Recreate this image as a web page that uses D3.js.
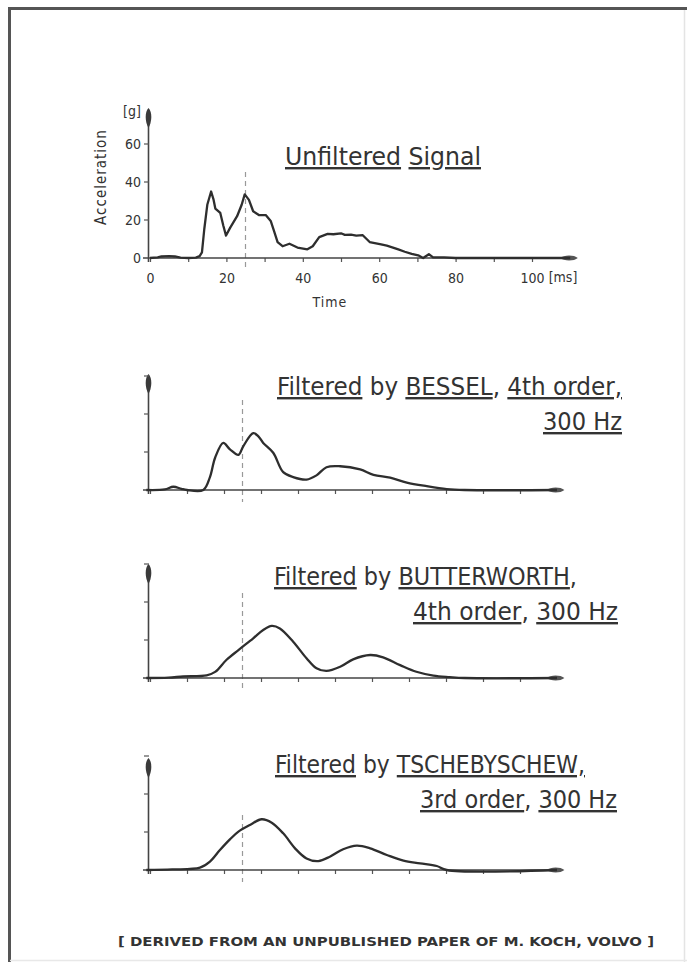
<!DOCTYPE html>
<html>
<head>
<meta charset="utf-8">
<script src="https://cdn.jsdelivr.net/npm/d3@7"></script>
<style>
  body { margin: 0; background: #fff; }
  svg text { font-family: "DejaVu Sans Condensed", "DejaVu Sans", sans-serif; fill: #333; }
  .ul { text-decoration: underline; text-underline-offset: 4px; }
</style>
</head>
<body>
<svg id="chart" width="687" height="962"></svg>
<script>
// values: [time ms, acceleration g]
const unfiltered = [[0,0],[2,0.3],[3,0.8],[5,1],[6.5,0.8],[8,0.2],[10,0],[12,0.2],[13,1],[13.6,3],[14.2,15],[15,28],[16,35],[16.6,31],[17.1,26],[18.4,23.7],[19.2,17],[19.9,11.8],[21,16],[22.8,22],[24,28],[24.8,33.5],[25.9,30.6],[27,24.6],[28.5,22.6],[30.3,22.6],[31.6,19.5],[32.5,14],[33.4,8.4],[34.7,6.2],[36.5,7.5],[38.6,5.5],[41.2,4.6],[42.6,6.2],[44.3,11],[46.5,12.7],[48,12.5],[50,13],[51,12.2],[52.6,12.3],[54,11.8],[55.7,12],[57.5,8.4],[60.5,7.2],[62,6.5],[63.6,5.5],[65,4.5],[66.7,3.3],[68.5,2.2],[70.2,1.4],[71.5,0],[73,2],[74.1,0.3],[77,0.3],[80,0],[100,0],[110,0]];
const bessel = [[-1,0],[4,0.3],[6.3,1.7],[8.5,0.6],[10,0],[14.4,0],[16.2,6.8],[17.6,17],[19.8,24.8],[21.6,21.4],[23.9,18.5],[25.2,23],[27.9,29.9],[29.3,28.2],[30.6,24.8],[33.3,19.6],[36,9.4],[38.7,6.8],[42.3,5.5],[45,7.7],[47.7,12],[51.4,12.5],[56.8,10.8],[60.4,8],[64.9,6.5],[69.4,3.9],[74.8,2],[80.2,0.5],[85,0],[110,0]];
const butterworth = [[-1,0],[5,0.2],[9,0.8],[15.3,1.4],[17.6,3.2],[20.7,9.6],[23.9,14.7],[27.9,20.9],[30.6,25.3],[32.9,27.4],[35.1,26.1],[38.7,19.1],[42.3,10.4],[45,5.1],[47.7,3.7],[51.4,5.9],[54.9,9.8],[59.5,12.1],[63,10.9],[67.6,6.8],[72,3.3],[76.6,1.3],[81,0.5],[85,0],[110,0]];
const tscheby = [[-1,0],[6,0.3],[13.5,1.2],[16.2,4.4],[18.9,10.5],[21.6,16.1],[23.9,20.2],[27,23.7],[30.2,26.7],[32.9,24.9],[36,19.3],[39.2,11.4],[42.3,6.1],[45.5,4.7],[48.6,7],[52.2,10.9],[55.9,12.8],[59.5,11.4],[64,7.9],[68.5,4.9],[73,3.5],[77.5,2.1],[80.2,0],[110,0]];

const yTicks = [0, 20, 40, 60];
const xTicks = d3.range(0, 101, 10);
const xLabels = [0, 20, 40, 60, 80, 100];
const markTime = 25;

const svg = d3.select("#chart");

// frame
svg.append("line").attr("x1", 9.5).attr("x2", 9.5).attr("y1", 7).attr("y2", 962)
  .attr("stroke", "#555").attr("stroke-width", 3);
svg.append("line").attr("x1", 8).attr("x2", 687).attr("y1", 8.5).attr("y2", 8.5)
  .attr("stroke", "#555").attr("stroke-width", 3);
svg.append("line").attr("x1", 684.5).attr("x2", 684.5).attr("y1", 10).attr("y2", 962)
  .attr("stroke", "#e4e4e4").attr("stroke-width", 1.5);
svg.append("line").attr("x1", 10).attr("x2", 687).attr("y1", 960.5).attr("y2", 960.5)
  .attr("stroke", "#e8e8e8").attr("stroke-width", 1.5);

function panel(opt) {
  const x = d3.scaleLinear().domain([0, 100]).range([150, opt.x100]);
  const y = d3.scaleLinear().domain([0, 60]).range([opt.base, opt.base - 114]);
  const g = svg.append("g");

  // dashed marker
  g.append("line")
    .attr("x1", x(markTime)).attr("x2", x(markTime))
    .attr("y1", opt.dashTop).attr("y2", opt.base + 12)
    .attr("stroke", "#999").attr("stroke-width", 1.2).attr("stroke-dasharray", "5,4");

  // y axis with arrow
  g.append("line").attr("x1", 148.5).attr("x2", 148.5)
    .attr("y1", opt.base + 4).attr("y2", y(opt.yTop) + 10)
    .attr("stroke", "#444").attr("stroke-width", 1.6);
  const ty = y(opt.yTop);
  g.append("path")
    .attr("d", `M148.5,${ty} C152.5,${ty + 4} 152,${ty + 14} 148.5,${ty + 20} C145,${ty + 14} 144.5,${ty + 4} 148.5,${ty} Z`)
    .attr("fill", "#3a3a3a");
  g.selectAll(".ytick").data(yTicks.slice(1)).join("line")
    .attr("x1", 144).attr("x2", 149).attr("y1", d => y(d)).attr("y2", d => y(d))
    .attr("stroke", "#555").attr("stroke-width", 1.2);

  // x axis with arrow
  const axis = d3.axisBottom(x).tickValues(xTicks).tickSize(4).tickSizeOuter(0)
    .tickPadding(11)
    .tickFormat(d => opt.labels && xLabels.includes(d) ? d : "");
  const ax = g.append("g").attr("transform", `translate(0,${opt.base})`).call(axis);
  ax.select(".domain").remove();
  ax.selectAll(".tick line").attr("stroke", "#555").attr("stroke-width", 1.2);
  ax.selectAll(".tick text").attr("font-size", 14).attr("fill", "#333");
  const axEnd = x(opt.xEnd);
  g.append("line").attr("x1", 143).attr("x2", axEnd - 8)
    .attr("y1", opt.base).attr("y2", opt.base)
    .attr("stroke", "#444").attr("stroke-width", 1.6);
  g.append("path")
    .attr("d", `M${axEnd},${opt.base} C${axEnd - 4},${opt.base - 3.5} ${axEnd - 14},${opt.base - 3.2} ${axEnd - 18},${opt.base} C${axEnd - 14},${opt.base + 3.2} ${axEnd - 4},${opt.base + 3.5} ${axEnd},${opt.base} Z`)
    .attr("fill", "#555");

  // signal
  g.append("path").datum(opt.data)
    .attr("fill", "none").attr("stroke", "#2e2e2e").attr("stroke-width", 2.3)
    .attr("stroke-linejoin", "round")
    .attr("d", d3.line().x(d => x(d[0])).y(d => y(d[1]))
      .curve(opt.smooth ? d3.curveCatmullRom.alpha(0.5) : d3.curveLinear));

  // title lines
  opt.title.forEach(line => {
    const t = g.append("text").attr("font-size", 24)
      .attr("x", line.x).attr("y", line.y)
      .attr("textLength", line.w).attr("lengthAdjust", "spacingAndGlyphs");
    line.parts.forEach(p => {
      t.append("tspan").attr("class", p[1] ? "ul" : null).text(p[0]);
    });
  });
  return {x, y, g};
}

const top1 = panel({
  base: 258, x100: 532, yTop: 79, xEnd: 112, dashTop: 172, labels: true, smooth: false,
  data: unfiltered,
  title: [{x: 285, y: 165, w: 196, parts: [["Unfiltered", 1], [" "], ["Signal", 1]]}]
});
// top axis labels
top1.g.selectAll(".ylab").data(yTicks).join("text")
  .attr("x", 141).attr("y", d => top1.y(d)).attr("dy", "0.36em")
  .attr("text-anchor", "end").attr("font-size", 14).text(d => d);
top1.g.append("text").attr("x", 132).attr("y", 116).attr("text-anchor", "middle")
  .attr("font-size", 14).text("[g]");
top1.g.append("text").attr("transform", "translate(106,177) rotate(-90)")
  .attr("text-anchor", "middle").attr("font-size", 15).attr("letter-spacing", 1)
  .text("Acceleration");
top1.g.append("text").attr("x", 563).attr("y", 282).attr("text-anchor", "middle")
  .attr("font-size", 14).text("[ms]");
top1.g.append("text").attr("x", 330).attr("y", 307).attr("text-anchor", "middle")
  .attr("font-size", 14).attr("letter-spacing", 1).text("Time");

panel({
  base: 490, x100: 520, yTop: 61, xEnd: 112, dashTop: 400, labels: false, smooth: true,
  data: bessel,
  title: [
    {x: 277, y: 395, w: 345, parts: [["Filtered", 1], [" by "], ["BESSEL", 1], [", "], ["4th order,", 1]]},
    {x: 543, y: 430, w: 79, parts: [["300 Hz", 1]]}
  ]
});

panel({
  base: 678, x100: 520, yTop: 60, xEnd: 112, dashTop: 593, labels: false, smooth: true,
  data: butterworth,
  title: [
    {x: 274, y: 585, w: 303, parts: [["Filtered", 1], [" by "], ["BUTTERWORTH", 1], [","]]},
    {x: 413, y: 620, w: 205, parts: [["4th order", 1], [", "], ["300 Hz", 1]]}
  ]
});

panel({
  base: 870, x100: 520, yTop: 59, xEnd: 112, dashTop: 815, labels: false, smooth: true,
  data: tscheby,
  title: [
    {x: 275, y: 773, w: 310, parts: [["Filtered", 1], [" by "], ["TSCHEBYSCHEW,", 1]]},
    {x: 420, y: 808, w: 197, parts: [["3rd order", 1], [", "], ["300 Hz", 1]]}
  ]
});

// source note
svg.append("text").attr("x", 118).attr("y", 946).attr("font-size", 13)
  .attr("font-weight", "bold").attr("fill", "#555")
  .attr("textLength", 536).attr("lengthAdjust", "spacingAndGlyphs")
  .text("[ DERIVED FROM AN UNPUBLISHED PAPER OF M. KOCH, VOLVO ]");
</script>
</body>
</html>
